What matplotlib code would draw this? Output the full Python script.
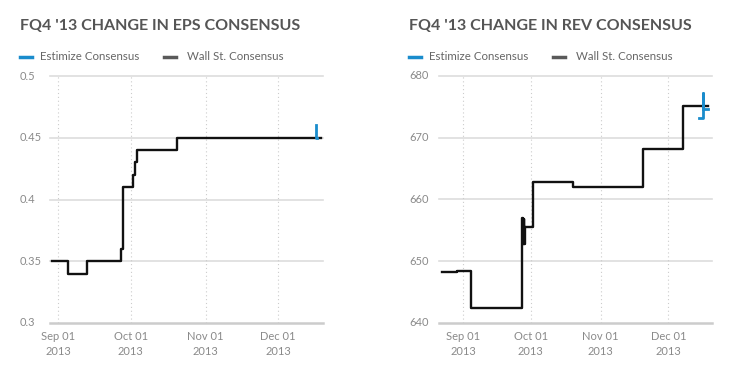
import matplotlib
matplotlib.use("Agg")
import matplotlib.pyplot as plt
import matplotlib.transforms as mtransforms
import pandas as pd

plt.rcParams['font.family'] = ['Lato', 'DejaVu Sans']

# EPS consensus (step data)
eps_wall_dates = ['2013-08-29 12:00', '2013-09-05 00:00', '2013-09-13 00:00', '2013-09-27 00:00',
                  '2013-09-27 20:00', '2013-10-02 00:00', '2013-10-02 16:00', '2013-10-03 12:00',
                  '2013-10-20 00:00', '2013-12-18 18:00']
eps_wall_vals = [0.35, 0.34, 0.35, 0.36, 0.41, 0.42, 0.43, 0.44, 0.45, 0.45]
eps_est_dates = ['2013-12-16 12:00', '2013-12-16 16:00', '2013-12-17 00:00']
eps_est_vals = [0.46, 0.45, 0.45]

# Revenue consensus (step data)
rev_wall_dates = ['2013-08-22 12:00', '2013-08-29 08:00', '2013-09-04 16:00', '2013-09-11 00:00',
                  '2013-09-27 00:00', '2013-09-27 14:00', '2013-09-27 20:00', '2013-09-28 04:00',
                  '2013-09-28 10:00', '2013-10-01 22:00', '2013-10-19 14:00',
                  '2013-11-20 00:00', '2013-12-07 14:00', '2013-12-18 14:00']
rev_wall_vals = [648.2, 648.4, 642.4, 642.5, 657.0, 652.8, 656.8, 652.8, 655.6,
                 662.9, 662.0, 668.1, 675.2, 675.2]
rev_est_dates = ['2013-12-14 12:00', '2013-12-16 12:00', '2013-12-16 14:00', '2013-12-18 14:00']
rev_est_vals = [673.2, 677.2, 674.6, 674.6]

eps_yticks = [0.3, 0.35, 0.4, 0.45, 0.5]
eps_ylabels = ['0.3', '0.35', '0.4', '0.45', '0.5']
rev_yticks = [640, 650, 660, 670, 680]
rev_ylabels = ['640', '650', '660', '670', '680']
month_ticks = ['2013-09-01', '2013-10-01', '2013-11-01', '2013-12-01']
month_labels = ['Sep 01\n2013', 'Oct 01\n2013', 'Nov 01\n2013', 'Dec 01\n2013']

BLUE = '#1a8ccc'
TITLE_C = '#555555'
TICK_C = '#8a8a8a'
GRID_C = '#dddddd'

W, H = 732, 387
fig = plt.figure(figsize=(W / 100, H / 100), dpi=100)


def px(x, y):
    return x / W, 1 - y / H


def panel(left_px, right_px, title, wall_d, wall_v, est_d, est_v, yticks, ylabels, xlim):
    x0, y0 = px(left_px, 323)
    x1, y1 = px(right_px, 76)
    ax = fig.add_axes([x0, y0, x1 - x0, y1 - y0])
    ax.set_ylim(yticks[0], yticks[-1])
    ax.set_xlim(pd.to_datetime(xlim[0]), pd.to_datetime(xlim[1]))
    for s in ax.spines.values():
        s.set_visible(False)
    for t in yticks:
        ax.axhline(t, color=GRID_C if t != yticks[0] else '#cccccc',
                   lw=1.2 if t != yticks[0] else 1.8, zorder=1, clip_on=False)
    mt = pd.to_datetime(month_ticks)
    for m in mt:
        ax.axvline(m, color='#cccccc', lw=0.8, ls=(0, (1, 2.5)), zorder=1)
    ax.set_yticks([])
    ax.set_xticks(mt)
    ax.set_xticklabels(month_labels, fontsize=8, color=TICK_C, linespacing=1.45)
    ax.tick_params(axis='x', length=0, pad=6)

    ax.step(pd.to_datetime(wall_d), wall_v, where='post', color='#111111', lw=1.7, zorder=3)
    ax.step(pd.to_datetime(est_d), est_v, where='post', color=BLUE, lw=2.0, zorder=4)

    lx = left_px - 30
    trans = mtransforms.blended_transform_factory(fig.transFigure, ax.transData)
    for t, lab in zip(yticks, ylabels):
        ax.text(lx / W, t, lab, transform=trans, ha='left', va='center',
                fontsize=8, color=TICK_C)

    fig.text(lx / W, 1 - 26 / H, title, fontsize=11.5, fontweight='bold',
             color=TITLE_C, ha='left', va='center')
    # legend
    ly = 1 - 57 / H
    fig.add_artist(plt.Line2D([lx / W, (lx + 12) / W], [ly, ly], color=BLUE, lw=2.5,
                              transform=fig.transFigure))
    fig.text((lx + 20) / W, ly, 'Estimize Consensus', fontsize=8.3, color='#666666',
             ha='left', va='center')
    gx = lx + 144
    fig.add_artist(plt.Line2D([gx / W, (gx + 12) / W], [ly, ly], color='#5a5a5a', lw=2.5,
                              transform=fig.transFigure))
    fig.text((gx + 23) / W, ly, 'Wall St. Consensus', fontsize=8.3, color='#666666',
             ha='left', va='center')
    return ax


panel(50, 323, "FQ4 '13 CHANGE IN EPS CONSENSUS", eps_wall_dates, eps_wall_vals,
      eps_est_dates, eps_est_vals, eps_yticks, eps_ylabels,
      ('2013-08-28 14:00', '2013-12-19 14:00'))
panel(439, 712, "FQ4 '13 CHANGE IN REV CONSENSUS", rev_wall_dates, rev_wall_vals,
      rev_est_dates, rev_est_vals, rev_yticks, rev_ylabels,
      ('2013-08-21 06:00', '2013-12-20 10:00'))

fig.savefig('out.png', dpi=100, facecolor='white')
